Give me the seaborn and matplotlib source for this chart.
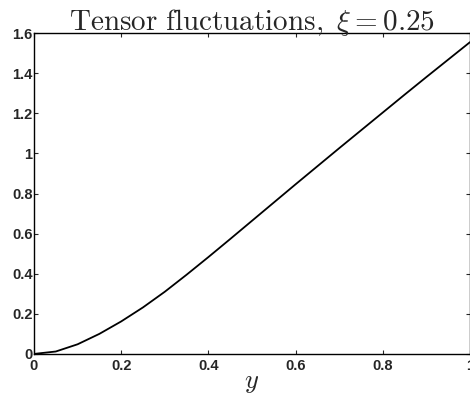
import matplotlib
matplotlib.use("Agg")
import matplotlib.pyplot as plt
import seaborn as sns
import pandas as pd

# Tensor fluctuation amplitude as a function of y
y_vals = [0.0, 0.05, 0.1, 0.15, 0.2, 0.25, 0.3, 0.35, 0.4, 0.45, 0.5,
          0.55, 0.6, 0.65, 0.7, 0.75, 0.8, 0.85, 0.9, 0.95, 1.0]
amplitude = [0.0, 0.012, 0.048, 0.100, 0.162, 0.232, 0.310, 0.395, 0.483, 0.573, 0.664,
             0.755, 0.846, 0.936, 1.026, 1.115, 1.204, 1.293, 1.381, 1.468, 1.555]
x_ticks = [0, 0.2, 0.4, 0.6, 0.8, 1.0]
x_tick_labels = ["0", "0.2", "0.4", "0.6", "0.8", "1"]
y_ticks = [0, 0.2, 0.4, 0.6, 0.8, 1.0, 1.2, 1.4, 1.6]
y_tick_labels = ["0", "0.2", "0.4", "0.6", "0.8", "1", "1.2", "1.4", "1.6"]

sns.set_style("ticks")
plt.rcParams["font.family"] = ["Liberation Sans", "DejaVu Sans"]
plt.rcParams["mathtext.fontset"] = "cm"

df = pd.DataFrame({"y": y_vals, "amp": amplitude})

fig = plt.figure(figsize=(4.7, 3.99), dpi=100)
ax = fig.add_axes([0.0723, 0.113, 0.9277, 0.804])
sns.lineplot(data=df, x="y", y="amp", ax=ax, color="black", linewidth=1.3)

ax.set_xlim(0, 1)
ax.set_ylim(0, 1.6)
ax.set_xticks(x_ticks)
ax.set_xticklabels(x_tick_labels, fontsize=10.5, fontweight="bold")
ax.set_yticks(y_ticks)
ax.set_yticklabels(y_tick_labels, fontsize=10.5, fontweight="bold")
ax.tick_params(direction="in", length=3, width=0.8, top=True, right=True)
ax.tick_params(axis="x", pad=4)
ax.tick_params(axis="y", pad=1)
for s in ax.spines.values():
    s.set_visible(True)
    s.set_linewidth(1.0)
    s.set_color("black")

ax.set_xlabel(r"$y$", fontsize=19, labelpad=-2)
ax.set_ylabel("")
ax.set_title(r"$\mathrm{Tensor\ fluctuations,}\ \xi = 0.25$", fontsize=21, pad=2)

fig.savefig("out.png", dpi=100)
